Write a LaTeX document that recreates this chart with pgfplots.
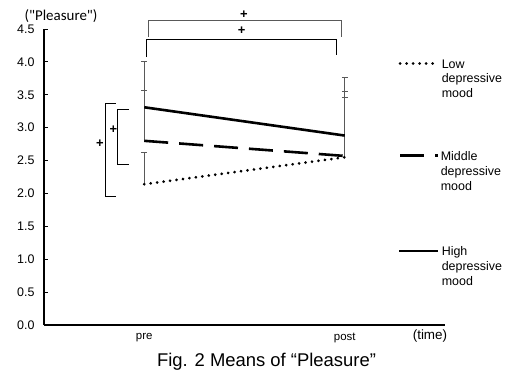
\documentclass[border=0pt]{standalone}
\usepackage{fontspec}
\setmainfont{Liberation Sans}
\newfontfamily\calib{Carlito}
\usepackage{pgfplots}
\pgfplotsset{compat=1.18}
\begin{document}
\begin{tikzpicture}[x=1bp,y=1bp]
\begin{axis}[
  at={(44bp,46bp)}, anchor=south west,
  scale only axis, width=401bp, height=296bp,
  xmin=0.5, xmax=2.5, ymin=0, ymax=4.5,
  axis x line=bottom, axis y line=left,
  axis line style={line width=1.5bp, -},
  xtick={1,2}, xticklabels={pre,post},
  x tick label style={font=\fontsize{11.5}{13}\selectfont, yshift=-5bp},
  xtick style={draw=none},
  ytick={0,0.5,...,4.5},
  /pgf/number format/fixed, /pgf/number format/fixed zerofill, /pgf/number format/precision=1,
  /pgf/number format/assume math mode=true,
  y tick label style={font=\fontsize{12.5}{14}\selectfont, xshift=-6bp},
  ytick style={black, line width=0.8bp},
  tick align=inside, major tick length=4bp,
  clip=false,
]
% error bars (upper only)
\addplot[gray!70!black, line width=0.7bp, forget plot, draw=none,
  error bars/.cd, y dir=plus, y explicit,
  error bar style={gray!70!black, line width=0.7bp},
  error mark options={rotate=90, mark size=3bp, gray!70!black, line width=0.7bp}]
  table[x=x, y=y, y error=e] {
x y e
1 2.14 0.48
2 2.55 1.00
1 2.80 0.76
2 2.57 0.89
1 3.31 0.70
2 2.88 0.89
};
% Low
\addplot[black, line width=3bp, dash pattern=on 0.01bp off 6.5bp, line cap=round] coordinates {(1,2.14) (2,2.55)};
% Middle
\addplot[black, line width=2.6bp, dash pattern=on 24bp off 11bp] coordinates {(1,2.80) (2,2.57)};
% High
\addplot[black, line width=2.6bp] coordinates {(1,3.31) (2,2.88)};

% top brackets
\draw[gray!70!black, line width=0.8bp] (axis cs:1.019,4.378) -- (axis cs:1.019,4.626) -- (axis cs:1.981,4.626) -- (axis cs:1.981,4.378);
\node[font=\fontsize{13}{13}\selectfont] at (axis cs:1.4975,4.717) {\textbf{+}};
\draw[black, line width=0.8bp] (axis cs:1.012,4.074) -- (axis cs:1.012,4.348) -- (axis cs:1.960,4.348) -- (axis cs:1.960,4.105);
\node[font=\fontsize{13}{13}\selectfont] at (axis cs:1.486,4.469) {\textbf{+}};
% left brackets
\draw[black, line width=0.8bp] (axis cs:0.859,3.375) -- (axis cs:0.808,3.375) -- (axis cs:0.808,1.961) -- (axis cs:0.859,1.961);
\node[font=\fontsize{13}{13}\selectfont] at (axis cs:0.779,2.752) {\textbf{+}};
\draw[black, line width=0.8bp] (axis cs:0.924,3.284) -- (axis cs:0.866,3.284) -- (axis cs:0.866,2.443) -- (axis cs:0.924,2.443);
\node[font=\fontsize{13}{13}\selectfont] at (axis cs:0.846,2.975) {\textbf{+}};

% legend
\draw[black, line width=3bp, dash pattern=on 0.01bp off 6.5bp, line cap=round] (axis cs:2.276,3.97) -- (axis cs:2.44,3.97);
\draw[black, line width=2.6bp, dash pattern=on 24bp off 11bp] (axis cs:2.276,2.574) -- (axis cs:2.465,2.574);
\draw[black, line width=2.6bp] (axis cs:2.271,1.125) -- (axis cs:2.465,1.125);
\begin{scope}[every node/.style={anchor=base west, inner sep=0pt, font=\fontsize{12.5}{14}\selectfont}]
\node at (axis cs:2.483,3.907) {Low};
\node[yshift=-14.5bp] at (axis cs:2.483,3.907) {depressive};
\node[yshift=-29bp] at (axis cs:2.483,3.907) {mood};
\node at (axis cs:2.478,2.498) {Middle};
\node[yshift=-15bp] at (axis cs:2.478,2.498) {depressive};
\node[yshift=-30bp] at (axis cs:2.478,2.498) {mood};
\node at (axis cs:2.483,1.064) {High};
\node[yshift=-15bp] at (axis cs:2.483,1.064) {depressive};
\node[yshift=-30bp] at (axis cs:2.483,1.064) {mood};
\end{scope}

% labels
\node[font=\calib\fontsize{15}{15}\selectfont] at (axis cs:0.585,4.697) {("Pleasure")};
\node[font=\fontsize{13.5}{13.5}\selectfont] at (axis cs:2.425,-0.167) {(time)};
\node[font=\fontsize{18.5}{18.5}\selectfont, anchor=base] at (axis cs:1.61,-0.63) {Fig. 2 Means of “Pleasure”};
\end{axis}
\pgfresetboundingbox
\path[use as bounding box] (0,0) rectangle (512bp,371bp);
\end{tikzpicture}
\end{document}
